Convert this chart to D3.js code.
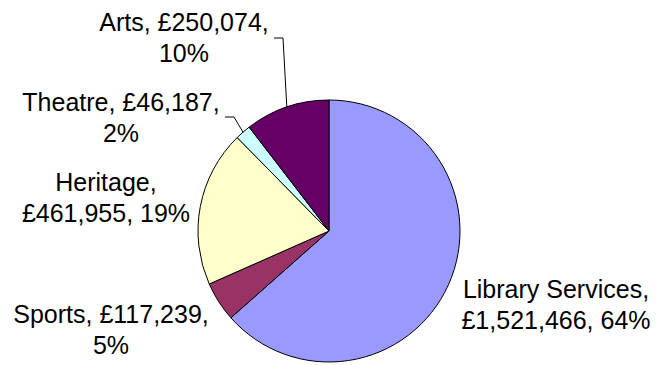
<!DOCTYPE html>
<html>
<head>
<meta charset="utf-8">
<script src="https://cdn.jsdelivr.net/npm/d3@7"></script>
<style>
  html, body { margin: 0; padding: 0; background: #fff; }
  #chart { width: 659px; height: 365px; }
  text { font-family: Arial, "Liberation Sans", sans-serif; }
</style>
</head>
<body>
<div id="chart"></div>
<script>
// data
const categories = ["Library Services", "Sports", "Heritage", "Theatre", "Arts"];
const amounts = [1521466, 117239, 461955, 46187, 250074];
const colors = ["#9999FF", "#993366", "#FFFFCC", "#CCFFFF", "#660066"];

// label layout: centre x, first baseline, where the line breaks, leader line
const labelLayout = [
  { x: 556, y: 298, split: "name", leader: null },
  { x: 111, y: 323, split: "value", leader: null },
  { x: 106, y: 191, split: "name", leader: null },
  { x: 121, y: 111, split: "value", leader: { x0: 225, x1: 234, y: 117 } },
  { x: 184, y: 31, split: "value", leader: { x0: 274, x1: 283, y: 38 } }
];

// whole percentages that add up to 100 (largest remainder)
const roundedPercents = (vals) => {
  const total = d3.sum(vals);
  const raw = vals.map(v => v / total * 100);
  const out = raw.map(Math.floor);
  let left = 100 - d3.sum(out);
  const order = d3.range(vals.length).sort((a, b) => (raw[b] - out[b]) - (raw[a] - out[a]));
  for (let k = 0; k < left; k++) out[order[k]] += 1;
  return out;
};

const drawPie = () => {
  const width = 659, height = 365;
  const cx = 329, cy = 231, radius = 131;

  const svg = d3.select("#chart")
    .append("svg")
    .attr("width", width)
    .attr("height", height);

  const pcts = roundedPercents(amounts);
  const rows = categories.map((c, i) => ({
    name: c, value: amounts[i], pct: pcts[i], color: colors[i], layout: labelLayout[i]
  }));

  const pie = d3.pie()
    .value(d => d.value)
    .sort(null);

  const arc = d3.arc().innerRadius(0).outerRadius(radius);
  const rim = d3.arc().innerRadius(radius).outerRadius(radius);

  const g = svg.append("g").attr("transform", `translate(${cx},${cy})`);
  const arcs = pie(rows);

  // slices
  g.selectAll("path.slice")
    .data(arcs)
    .join("path")
    .attr("class", "slice")
    .attr("d", arc)
    .attr("fill", d => d.data.color)
    .attr("stroke", "#000")
    .attr("stroke-width", 1)
    .attr("stroke-linejoin", "round");

  // leader lines
  arcs.filter(d => d.data.layout.leader).forEach(d => {
    const L = d.data.layout.leader;
    const [px, py] = rim.centroid(d);
    svg.append("polyline")
      .attr("points", `${L.x0},${L.y} ${L.x1},${L.y} ${cx + px},${cy + py}`)
      .attr("fill", "none")
      .attr("stroke", "#000")
      .attr("stroke-width", 1);
  });

  // labels
  const fmt = d3.format(",");
  arcs.forEach(d => {
    const lay = d.data.layout;
    const pct = d.data.pct + "%";
    const money = "£" + fmt(d.data.value);
    const lines = lay.split === "name"
      ? [d.data.name + ",", money + ", " + pct]
      : [d.data.name + ", " + money + ",", pct];

    const t = svg.append("text")
      .attr("text-anchor", "middle")
      .attr("font-size", "25px")
      .attr("fill", "#000");
    lines.forEach((s, i) => {
      t.append("tspan")
        .attr("x", lay.x)
        .attr("y", lay.y + i * 31)
        .text(s);
    });
  });
};

drawPie();
</script>
</body>
</html>
